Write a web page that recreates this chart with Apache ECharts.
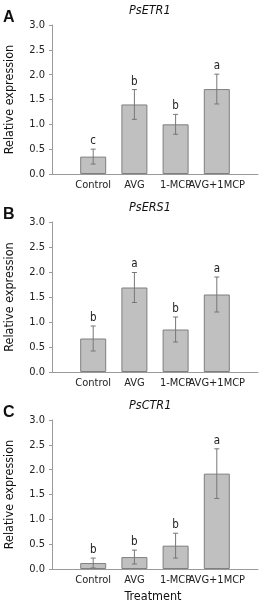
<!DOCTYPE html>
<html><head><meta charset="utf-8">
<script src="https://cdn.jsdelivr.net/npm/echarts@6/dist/echarts.min.js"></script>
<style>html,body{margin:0;padding:0;background:#fff}#c{width:264px;height:605px}</style>
</head><body><div id="c"></div>
<script>
var categories = ['Control', 'AVG', '1-MCP', 'AVG+1MCP'];
var yTicks = ['0.0', '0.5', '1.0', '1.5', '2.0', '2.5', '3.0'];
var titles = ['PsETR1', 'PsERS1', 'PsCTR1'];
var panelLetters = ['A', 'B', 'C'];
var etr1Values = [0.35, 1.40, 1.00, 1.71];
var etr1Errors = [0.15, 0.30, 0.20, 0.30];
var etr1Letters = ['c', 'b', 'b', 'a'];
var ers1Values = [0.67, 1.69, 0.85, 1.55];
var ers1Errors = [0.25, 0.30, 0.25, 0.35];
var ers1Letters = ['b', 'a', 'b', 'a'];
var ctr1Values = [0.12, 0.24, 0.47, 1.92];
var ctr1Errors = [0.10, 0.14, 0.25, 0.50];
var ctr1Letters = ['b', 'b', 'b', 'a'];

var panels = [
  {v: etr1Values, e: etr1Errors, l: etr1Letters, top: 25, h: 149},
  {v: ers1Values, e: ers1Errors, l: ers1Letters, top: 222, h: 150},
  {v: ctr1Values, e: ctr1Errors, l: ctr1Letters, top: 420, h: 149}
];
var FONT = '"Liberation Sans Narrow","DejaVu Sans Condensed",sans-serif';
var grids = [], xAxes = [], yAxes = [], series = [], graphics = [];
panels.forEach(function (p, i) {
  grids.push({left: 52, width: 206, top: p.top, height: p.h, containLabel: false, outerBoundsMode: 'none'});
  xAxes.push({
    type: 'value', gridIndex: i, min: 0, max: 5, interval: 1,
    axisLine: {show: true, lineStyle: {color: '#9a9a9a', width: 1}},
    axisTick: {show: false}, splitLine: {show: false},
    axisLabel: {
      color: '#222', fontSize: 11, fontFamily: FONT, margin: 6,
      formatter: function (v) { return categories[v - 1] || ''; },
      showMinLabel: false, showMaxLabel: false
    },
    name: i === 2 ? 'Treatment' : '', nameLocation: 'middle', nameGap: 21,
    nameTextStyle: {color: '#111', fontSize: 12.5, fontFamily: FONT, padding: [0, 0, 0, -4]}
  });
  yAxes.push({
    type: 'value', gridIndex: i, min: 0, max: 3, interval: 0.5,
    axisLine: {show: true, lineStyle: {color: '#9a9a9a', width: 1}},
    axisTick: {show: true, length: 3, lineStyle: {color: '#9a9a9a'}},
    splitLine: {show: false},
    axisLabel: {color: '#222', fontSize: 11, fontFamily: FONT, margin: 7,
      formatter: function (v) { return yTicks[Math.round(v * 2)]; }},
    name: 'Relative expression', nameLocation: 'middle', nameGap: 36,
    nameTextStyle: {color: '#111', fontSize: 12.5, fontFamily: FONT}
  });
  var barData = p.v.map(function (v, k) { return [k + 1, v]; });
  series.push({
    type: 'bar', xAxisIndex: i, yAxisIndex: i, data: barData, barWidth: 26,
    itemStyle: {color: '#c0c0c0', borderColor: '#7f7f7f', borderWidth: 1},
    silent: true, z: 2
  });
  var errData = p.v.map(function (v, k) { return [k + 1, v, p.e[k], p.l[k]]; });
  series.push({
    type: 'custom', xAxisIndex: i, yAxisIndex: i, data: errData, z: 5, silent: true,
    renderItem: function (params, api) {
      var x = api.value(0), v = api.value(1), e = api.value(2);
      var letter = errData[params.dataIndex][3];
      var lo = api.coord([x, v - e]), hi = api.coord([x, v + e]);
      var cap = 2.5;
      var st = {stroke: '#777', lineWidth: 1};
      return {type: 'group', children: [
        {type: 'line', shape: {x1: lo[0], y1: lo[1], x2: hi[0], y2: hi[1]}, style: st},
        {type: 'line', shape: {x1: lo[0] - cap, y1: lo[1], x2: lo[0] + cap, y2: lo[1]}, style: st},
        {type: 'line', shape: {x1: hi[0] - cap, y1: hi[1], x2: hi[0] + cap, y2: hi[1]}, style: st},
        {type: 'text', x: hi[0], y: hi[1] - 2, style: {text: letter, fill: '#222',
          font: '11.5px ' + FONT, align: 'center', verticalAlign: 'bottom'}}
      ]};
    }
  });
  graphics.push({type: 'text', left: 129, top: p.top - 21,
    style: {text: titles[i], font: 'italic 12.5px ' + FONT, fill: '#111'}});
  graphics.push({type: 'text', left: 3, top: p.top - 15,
    style: {text: panelLetters[i], font: 'bold 16px "Liberation Sans",sans-serif', fill: '#111'}});
});
var chart = echarts.init(document.getElementById('c'));
chart.setOption({
  animation: false,
  grid: grids, xAxis: xAxes, yAxis: yAxes, series: series, graphic: graphics
});
</script></body></html>
